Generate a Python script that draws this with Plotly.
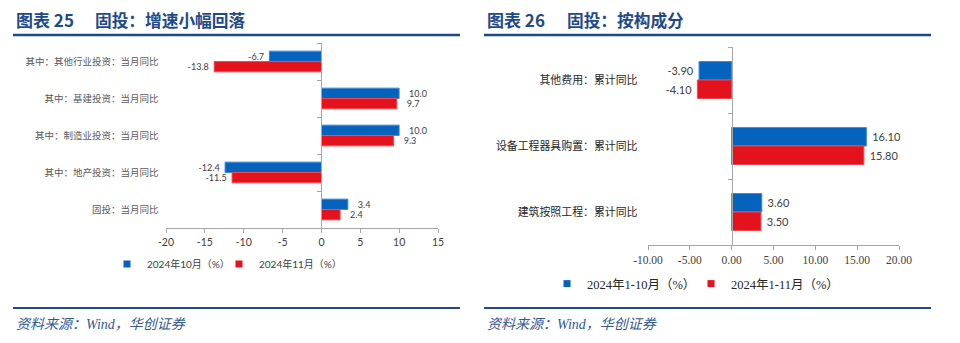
import plotly.graph_objects as go

W, H = 960, 343

# ---------------- data ----------------
# Left chart (图表 25)
cats_left = ["其中：其他行业投资：当月同比", "其中：基建投资：当月同比",
             "其中：制造业投资：当月同比", "其中：地产投资：当月同比", "固投：当月同比"]
oct_2024 = [-6.7, 10.0, 10.0, -12.4, 3.4]
nov_2024 = [-13.8, 9.7, 9.3, -11.5, 2.4]
names_left = ["2024年10月（%）", "2024年11月（%）"]
xtick_left_vals = [-20, -15, -10, -5, 0, 5, 10, 15]
xtick_left_text = ["-20", "-15", "-10", "-5", "0", "5", "10", "15"]

# Right chart (图表 26)
cats_right = ["其他费用：累计同比", "设备工程器具购置：累计同比", "建筑按照工程：累计同比"]
jan_oct_2024 = [-3.90, 16.10, 3.60]
jan_nov_2024 = [-4.10, 15.80, 3.50]
names_right = ["2024年1-10月（%）", "2024年1-11月（%）"]
xtick_right_vals = [-10, -5, 0, 5, 10, 15, 20]
xtick_right_text = ["-10.00", "-5.00", "0.00", "5.00", "10.00", "15.00", "20.00"]

titles_num = ["图表 25", "图表 26"]
titles_txt = ["固投：增速小幅回落", "固投：按构成分"]
source_txt = "资料来源：Wind，华创证券"

# ---------------- style ----------------
BLUE = "#0563BE"
BLUE_EDGE = "#3D8BDB"
RED = "#E3121C"
RED_EDGE = "#EE4A50"
AXC = "#A6A6A6"
NAVY = "#1F4A8A"
SRC = "#36588F"
CJK = "Noto Sans CJK SC"
NUM = "Lato, Noto Sans CJK SC"
SERIF = "Liberation Serif, Noto Sans CJK SC"

def px_x(p):
    return p / W

def px_y(p):
    return 1 - p / H

L_X = [px_x(166), px_x(438)]
L_Y = [px_y(228), px_y(43)]
L_R = [-20, 15]
R_X = [px_x(648), px_x(899)]
R_Y = [px_y(245), px_y(47)]
R_R = [-10, 20]

def zero_pos(dom, rng):
    return dom[0] + (0 - rng[0]) / (rng[1] - rng[0]) * (dom[1] - dom[0])

NB = "\u00a0"

def lab_left(v):
    s = f"{v:.1f}"
    return NB * 3 + s if v >= 0 else s + NB

def lab_right(v):
    s = f"{v:.2f}"
    return NB + s if v >= 0 else s + NB

fig = go.Figure()

# left bars
for vals, name, col, edge, lg in [(oct_2024, names_left[0], BLUE, BLUE_EDGE, "legend"),
                                  (nov_2024, names_left[1], RED, RED_EDGE, "legend2")]:
    fig.add_trace(go.Bar(
        y=cats_left, x=vals, orientation="h", name=name,
        marker=dict(color=col, line=dict(color=edge, width=1)),
        text=[lab_left(v) for v in vals], textposition="outside",
        textfont=dict(family=NUM, size=10.5, color="#404040"),
        cliponaxis=False, showlegend=False, xaxis="x", yaxis="y"))
    fig.add_trace(go.Scatter(
        x=[None], y=[None], mode="markers", name=name,
        marker=dict(symbol="square", size=7, color=col),
        legend=lg, xaxis="x", yaxis="y"))

# right bars
for vals, name, col, edge, lg in [(jan_oct_2024, names_right[0], BLUE, BLUE_EDGE, "legend3"),
                                  (jan_nov_2024, names_right[1], RED, RED_EDGE, "legend4")]:
    fig.add_trace(go.Bar(
        y=cats_right, x=vals, orientation="h", name=name,
        marker=dict(color=col, line=dict(color=edge, width=1)),
        text=[lab_right(v) for v in vals], textposition="outside",
        textfont=dict(family=NUM, size=11, color="#404040"),
        cliponaxis=False, showlegend=False, xaxis="x2", yaxis="y2"))
    fig.add_trace(go.Scatter(
        x=[None], y=[None], mode="markers", name=name,
        marker=dict(symbol="square", size=7, color=col),
        legend=lg, xaxis="x2", yaxis="y2"))

common_x = dict(showline=True, linecolor=AXC, linewidth=1, ticks="outside", ticklen=4,
                tickcolor=AXC, showgrid=False, zeroline=False, fixedrange=True,
                automargin=False)
common_y = dict(type="category", autorange="reversed", showline=True, linecolor=AXC,
                linewidth=1, ticks="outside", ticklen=4, tickcolor=AXC,
                tickson="boundaries", showgrid=False, zeroline=False, fixedrange=True,
                anchor="free", automargin=False)

def leg(text_x, y_px, font):
    return dict(orientation="h", x=px_x(text_x - 40), y=px_y(y_px), xanchor="left",
                yanchor="middle", bgcolor="rgba(0,0,0,0)", font=font)

left_leg_font = dict(family=NUM, size=10, color="#404040")
right_leg_font = dict(family=SERIF, size=12.5, color="#262626")

fig.update_layout(
    width=W, height=H, margin=dict(l=0, r=0, t=0, b=0, autoexpand=False),
    paper_bgcolor="white", plot_bgcolor="white",
    barmode="group", bargap=0.44, bargroupgap=0,
    xaxis=dict(domain=L_X, range=L_R, anchor="y", tickvals=xtick_left_vals,
               ticktext=xtick_left_text,
               tickfont=dict(family=NUM, size=10.5, color="#404040"), **common_x),
    yaxis=dict(domain=L_Y, position=zero_pos(L_X, L_R), categoryorder="array",
               categoryarray=cats_left, ticklabelstandoff=161,
               tickfont=dict(family=CJK, size=9.5, color="#595959"), **common_y),
    xaxis2=dict(domain=R_X, range=R_R, anchor="y2", tickvals=xtick_right_vals,
                ticktext=xtick_right_text,
                tickfont=dict(family=SERIF, size=11.5, color="#404040"), **common_x),
    yaxis2=dict(domain=R_Y, position=zero_pos(R_X, R_R), categoryorder="array",
                categoryarray=cats_right, ticklabelstandoff=92,
                tickfont=dict(family=CJK, size=10.9, color="#262626"), **common_y),
    legend=leg(147, 264, left_leg_font),
    legend2=leg(259, 264, left_leg_font),
    legend3=leg(587, 284, right_leg_font),
    legend4=leg(731, 284, right_leg_font),
)

# header / footer decorations
for (x0, x1), num, txt, txt_x in [((13, 460), titles_num[0], titles_txt[0], 93),
                                  ((484, 931), titles_num[1], titles_txt[1], 565)]:
    fig.add_shape(type="line", xref="paper", yref="paper", x0=px_x(x0), x1=px_x(x1),
                  y0=px_y(35), y1=px_y(35), line=dict(color=NAVY, width=2.5))
    fig.add_shape(type="line", xref="paper", yref="paper", x0=px_x(x0), x1=px_x(x1),
                  y0=px_y(308), y1=px_y(308), line=dict(color=NAVY, width=2))
    fig.add_annotation(xref="paper", yref="paper", x=px_x(x0 + 1), y=px_y(20),
                       xanchor="left", yanchor="middle", showarrow=False,
                       text=f"<b>{num}</b>", font=dict(family=CJK, size=17, color=NAVY))
    fig.add_annotation(xref="paper", yref="paper", x=px_x(txt_x), y=px_y(20),
                       xanchor="left", yanchor="middle", showarrow=False,
                       text=f"<b>{txt}</b>", font=dict(family=CJK, size=16.7, color=NAVY))
    fig.add_annotation(xref="paper", yref="paper", x=px_x(x0 + 1), y=px_y(324),
                       xanchor="left", yanchor="middle", showarrow=False,
                       text=f"<i>{source_txt}</i>", font=dict(family=SERIF, size=14, color=SRC))

fig.write_html("out.html")
